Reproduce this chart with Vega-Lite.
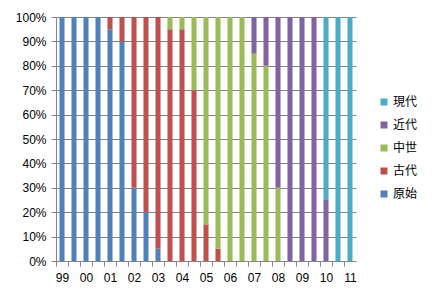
{
  "$schema": "https://vega.github.io/schema/vega-lite/v6.json",
  "width": 300,
  "height": 244,
  "autosize": {"type": "none"},
  "padding": {"left": 56, "top": 17, "right": 76, "bottom": 37},
  "background": "white",
  "data": {
    "values": [
      {"t": "99", "era": "原始", "k": 1, "v": 100},
      {"t": "99b", "era": "原始", "k": 1, "v": 100},
      {"t": "00", "era": "原始", "k": 1, "v": 100},
      {"t": "00b", "era": "原始", "k": 1, "v": 100},
      {"t": "01", "era": "原始", "k": 1, "v": 95},
      {"t": "01", "era": "古代", "k": 2, "v": 5},
      {"t": "01b", "era": "原始", "k": 1, "v": 90},
      {"t": "01b", "era": "古代", "k": 2, "v": 10},
      {"t": "02", "era": "原始", "k": 1, "v": 30},
      {"t": "02", "era": "古代", "k": 2, "v": 70},
      {"t": "02b", "era": "原始", "k": 1, "v": 20},
      {"t": "02b", "era": "古代", "k": 2, "v": 80},
      {"t": "03", "era": "原始", "k": 1, "v": 5},
      {"t": "03", "era": "古代", "k": 2, "v": 95},
      {"t": "03b", "era": "古代", "k": 2, "v": 95},
      {"t": "03b", "era": "中世", "k": 3, "v": 5},
      {"t": "04", "era": "古代", "k": 2, "v": 95},
      {"t": "04", "era": "中世", "k": 3, "v": 5},
      {"t": "04b", "era": "古代", "k": 2, "v": 70},
      {"t": "04b", "era": "中世", "k": 3, "v": 30},
      {"t": "05", "era": "古代", "k": 2, "v": 15},
      {"t": "05", "era": "中世", "k": 3, "v": 85},
      {"t": "05b", "era": "古代", "k": 2, "v": 5},
      {"t": "05b", "era": "中世", "k": 3, "v": 95},
      {"t": "06", "era": "中世", "k": 3, "v": 100},
      {"t": "06b", "era": "中世", "k": 3, "v": 100},
      {"t": "07", "era": "中世", "k": 3, "v": 85},
      {"t": "07", "era": "近代", "k": 4, "v": 15},
      {"t": "07b", "era": "中世", "k": 3, "v": 80},
      {"t": "07b", "era": "近代", "k": 4, "v": 20},
      {"t": "08", "era": "中世", "k": 3, "v": 30},
      {"t": "08", "era": "近代", "k": 4, "v": 70},
      {"t": "08b", "era": "近代", "k": 4, "v": 100},
      {"t": "09", "era": "近代", "k": 4, "v": 100},
      {"t": "09b", "era": "近代", "k": 4, "v": 100},
      {"t": "10", "era": "近代", "k": 4, "v": 25},
      {"t": "10", "era": "現代", "k": 5, "v": 75},
      {"t": "10b", "era": "現代", "k": 5, "v": 100},
      {"t": "11", "era": "現代", "k": 5, "v": 100}
    ]
  },
  "mark": {"type": "bar"},
  "encoding": {
    "x": {
      "field": "t",
      "type": "ordinal",
      "sort": null,
      "scale": {"paddingInner": 0.58, "paddingOuter": 0.29},
      "axis": {
        "title": null,
        "labelAngle": 0,
        "labelExpr": "length(datum.value) > 2 ? '' : datum.value",
        "tickOffset": -6,
        "labelOffset": 6,
        "tickSize": 5,
        "labelPadding": 6,
        "domainColor": "#868686",
        "tickColor": "#868686",
        "labelColor": "#000000",
        "labelFont": "Liberation Sans",
        "labelFontSize": 12
      }
    },
    "y": {
      "field": "v",
      "type": "quantitative",
      "stack": "normalize",
      "axis": {
        "title": null,
        "format": ".0%",
        "tickCount": 10,
        "gridColor": "#868686",
        "domainColor": "#868686",
        "tickColor": "#868686",
        "tickSize": 5,
        "labelPadding": 5,
        "labelColor": "#000000",
        "labelFont": "Liberation Sans",
        "labelFontSize": 12
      }
    },
    "color": {
      "field": "era",
      "type": "nominal",
      "scale": {
        "domain": ["現代", "近代", "中世", "古代", "原始"],
        "range": ["#4BACC6", "#8064A2", "#9BBB59", "#C0504D", "#4F81BD"]
      },
      "legend": {
        "title": null,
        "orient": "none",
        "legendX": 322,
        "legendY": 79,
        "padding": 0,
        "symbolType": "square",
        "symbolSize": 49,
        "symbolOpacity": 1,
        "symbolStrokeWidth": 0,
        "labelFont": "Noto Sans CJK JP",
        "labelFontSize": 12,
        "labelColor": "#000000",
        "labelOffset": 3,
        "rowPadding": 11
      }
    },
    "order": {"field": "k", "type": "quantitative"}
  },
  "config": {
    "view": {"stroke": null}
  }
}
